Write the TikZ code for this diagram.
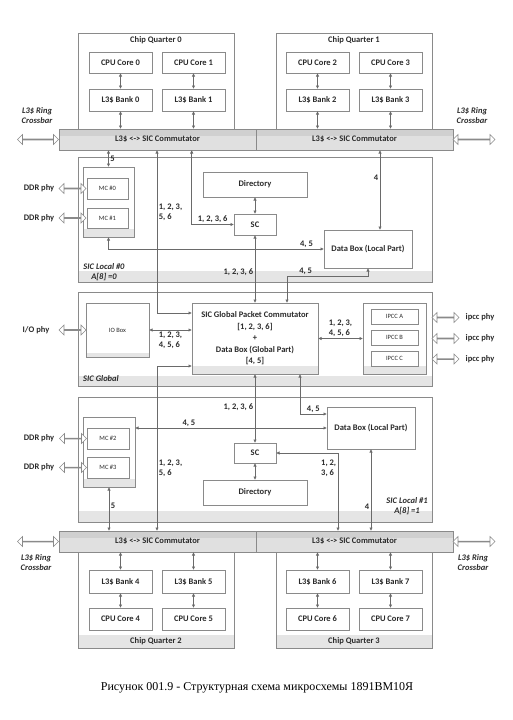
\documentclass[tikz,border=0pt]{standalone}
\usepackage{fontspec}
\setmainfont{Carlito}
\newfontfamily\capfont{Liberation Serif}
\usetikzlibrary{arrows.meta}
\usetikzlibrary{shapes.arrows}
\usetikzlibrary{shadows}

\definecolor{linegray}{HTML}{6A6A6A}
\definecolor{boxgray}{HTML}{8A8A8A}
\definecolor{bandgray}{HTML}{E5E5E5}
\definecolor{barfill}{HTML}{E0E0E0}
\definecolor{bartop}{HTML}{D0D0D0}
\definecolor{txtgray}{HTML}{2A2A2A}

\begin{document}
\begin{tikzpicture}[x=1pt, y=-1pt,
    font=\fontsize{8.5}{10}\selectfont\bfseries, text=txtgray,
    >={Triangle[length=3.2pt,width=3pt]},
    unit/.style={draw=boxgray, fill=white, inner sep=0pt, line width=0.6pt,
      drop shadow={shadow xshift=1pt, shadow yshift=-1pt, fill=black!25, opacity=1}},
    small/.style={font=\fontsize{6.5}{8}\selectfont\mdseries},
    area/.style={draw=boxgray, fill=white, inner sep=0pt, line width=0.6pt,
      path picture={\fill[bandgray] (path picture bounding box.south west)
        rectangle ([yshift=#1]path picture bounding box.south east);}},
    area/.default=11pt,
    bar/.style={draw=boxgray, fill=barfill, inner sep=0pt, line width=0.6pt,
      minimum width=197pt, minimum height=21pt,
      path picture={\fill[bartop] (path picture bounding box.north west)
        rectangle ([yshift=-7pt]path picture bounding box.north east);}},
    phy/.style={double arrow, draw=boxgray, fill=white, line width=0.6pt,
      inner sep=0pt, minimum width=10pt, double arrow head extend=3pt,
      double arrow head indent=0pt, minimum height=#1},
    link/.style={draw=linegray, line width=0.7pt, <->},
    tag/.style={inner sep=1.5pt},
    note/.style={font=\fontsize{8.5}{10}\selectfont\bfseries\itshape, align=center}]

  \useasboundingbox (0,0) rectangle (512,720);

  %chip quarters 0 and 1
  \node[area=0pt, minimum width=156pt, minimum height=97pt,
        label={[anchor=north]north:Chip Quarter 0}] (cq0) at (156,81.5) {};
  \node[area=0pt, minimum width=156pt, minimum height=97pt,
        label={[anchor=north]north:Chip Quarter 1}] (cq1) at (354,81.5) {};
  \node[unit, minimum width=63pt, minimum height=21pt] (core0) at (120.5,62.5) {CPU Core 0};
  \node[unit, minimum width=63pt, minimum height=21pt] (core1) at (193.5,62.5) {CPU Core 1};
  \node[unit, minimum width=63pt, minimum height=21pt] (core2) at (317.5,62.5) {CPU Core 2};
  \node[unit, minimum width=63pt, minimum height=21pt] (core3) at (390.5,62.5) {CPU Core 3};
  \node[unit, minimum width=63pt, minimum height=22pt] (bank0) at (120.5,100) {L3\$ Bank 0};
  \node[unit, minimum width=63pt, minimum height=22pt] (bank1) at (193.5,100) {L3\$ Bank 1};
  \node[unit, minimum width=63pt, minimum height=22pt] (bank2) at (317.5,100) {L3\$ Bank 2};
  \node[unit, minimum width=63pt, minimum height=22pt] (bank3) at (390.5,100) {L3\$ Bank 3};

  %upper commutators and ring crossbar
  \node[bar] (cmt0) at (157.5,139.5) {L3\$ <-> SIC Commutator};
  \node[bar] (cmt1) at (354.5,139.5) {L3\$ <-> SIC Commutator};
  \node[phy=41pt] (ring0) at (38,139.5) {};
  \node[phy=42pt] (ring1) at (474,139.5) {};
  \node[note] (ringlbl0) at (37,116) {L3\$ Ring\\Crossbar};
  \node[note] (ringlbl1) at (472,116) {L3\$ Ring\\Crossbar};

  \draw[link] (core0) -- (bank0);
  \draw[link] (core1) -- (bank1);
  \draw[link] (core2) -- (bank2);
  \draw[link] (core3) -- (bank3);
  \draw[link] (bank0) -- (bank0 |- cmt0.north);
  \draw[link] (bank1) -- (bank1 |- cmt0.north);
  \draw[link] (bank2) -- (bank2 |- cmt1.north);
  \draw[link] (bank3) -- (bank3 |- cmt1.north);

  %SIC local 0
  \node[area, minimum width=354pt, minimum height=125pt] (loc0) at (255,219.5) {};
  \node[note] (loc0lbl) at (104,272) {SIC Local \#0\\A[8] =0};
  \node[area=8pt, minimum width=51pt, minimum height=70pt] (mcg0) at (108.5,202) {};
  \node[unit, small, minimum width=41pt, minimum height=21pt] (mc0) at (107.5,188.5) {MC \#0};
  \node[unit, small, minimum width=41pt, minimum height=20pt] (mc1) at (107.5,218) {MC \#1};
  \node[phy=27pt] (ddr0) at (72.5,188.5) {};
  \node[phy=27pt] (ddr1) at (72.5,218) {};
  \node (ddrlbl0) at (39,188.5) {DDR phy};
  \node (ddrlbl1) at (39,218) {DDR phy};
  \node[unit, minimum width=104pt, minimum height=25pt] (dir0) at (255,184.5) {Directory};
  \node[unit, minimum width=42pt, minimum height=21pt] (sc0) at (255,224.5) {SC};
  \node[unit, minimum width=88pt, minimum height=38pt] (db0) at (368,249) {Data Box (Local Part)};

  %SIC global
  \node[area=10pt, minimum width=354pt, minimum height=94pt] (glob) at (255,339) {};
  \node[note] (globlbl) at (101,379) {SIC Global};
  \node[area=4pt, small, minimum width=63pt, minimum height=54pt] (iobox) at (117.5,330) {IO Box};
  \node[phy=27pt] (iophy) at (72.5,330) {};
  \node (iolbl) at (36,330) {I/O phy};
  \node[area=8pt, align=center, minimum width=126pt, minimum height=71pt,
        font=\fontsize{8.5}{11.5}\selectfont\bfseries] (gpc) at (255,338.5)
        {SIC Global Packet Commutator\\{}[1, 2, 3, 6]\\+\\Data Box (Global Part)\\{}[4, 5]};
  \node[area=8pt, minimum width=63pt, minimum height=71pt] (ipccg) at (394.5,338.5) {};
  \node[unit, small, minimum width=47pt, minimum height=15pt] (ipccA) at (394.5,316.5) {IPCC A};
  \node[unit, small, minimum width=47pt, minimum height=15pt] (ipccB) at (394.5,337.5) {IPCC B};
  \node[unit, small, minimum width=47pt, minimum height=15pt] (ipccC) at (394.5,358.5) {IPCC C};
  \node[phy=27pt] (phyA) at (445.5,317.5) {};
  \node[phy=27pt] (phyB) at (445.5,338.5) {};
  \node[phy=27pt] (phyC) at (445.5,359) {};
  \node (phylblA) at (480,317.5) {ipcc phy};
  \node (phylblB) at (480,338.5) {ipcc phy};
  \node (phylblC) at (480,359) {ipcc phy};

  %links of SIC local 0
  \coordinate (bus0) at (157,313);
  \coordinate (db0turn) at (287,276);
  \draw[link] (mcg0.north) -- (mcg0.north |- cmt0.south)
        node[tag, midway, right] (t5a) {5};
  \draw[link] (bus0 |- cmt0.south) -- (bus0)
        node[tag, pos=0.38, right, align=left] (t1a) {1, 2, 3,\\5, 6}
        -- (bus0 -| gpc.west);
  \draw[link] (gpc.west |- cmt0.south) -- (gpc.west |- sc0) -- (sc0.west)
        node[tag, midway, above] (t2a) {1, 2, 3, 6};
  \draw[link] (dir0) -- (sc0);
  \draw[link] (sc0) -- (gpc) node[tag, pos=0.55, left] (t3a) {1, 2, 3, 6};
  \draw[link] (mcg0) -- (mcg0 |- db0) -- (db0)
        node[tag, pos=0.92, above] (t4a) {4, 5};
  \draw[link] ([xshift=12pt]db0.north) -- ([xshift=12pt]db0.north |- cmt1.south)
        node[tag, pos=0.66, left] (t6a) {4};
  \draw[link] (db0.south) -- (db0.south |- db0turn) -- (db0turn)
        node[tag, pos=0.77, above] (t7a) {4, 5}
        -- (db0turn |- gpc.north);

  %links of SIC global
  \draw[link] (iobox.east) -- (iobox.east -| gpc.west)
        node[tag, midway, below, align=left] (t8) {1, 2, 3,\\4, 5, 6};
  \draw[link] (gpc.east) -- (gpc.east -| ipccg.west)
        node[tag, midway, above, align=left] (t9) {1, 2, 3,\\4, 5, 6};

  %SIC local 1
  \node[area, minimum width=354pt, minimum height=125pt] (loc1) at (255,459.5) {};
  \node[note] (loc1lbl) at (407,506) {SIC Local \#1\\A[8] =1};
  \node[area=8pt, minimum width=52pt, minimum height=70pt] (mcg1) at (109,452) {};
  \node[unit, small, minimum width=42pt, minimum height=21pt] (mc2) at (108,438.5) {MC \#2};
  \node[unit, small, minimum width=42pt, minimum height=21pt] (mc3) at (108,467.5) {MC \#3};
  \node[phy=27pt] (ddr2) at (73,438.5) {};
  \node[phy=27pt] (ddr3) at (73,467.5) {};
  \node (ddrlbl2) at (39,438.5) {DDR phy};
  \node (ddrlbl3) at (39,467.5) {DDR phy};
  \node[unit, minimum width=42pt, minimum height=20pt] (sc1) at (255,453) {SC};
  \node[unit, minimum width=104pt, minimum height=25pt] (dir1) at (255,492.5) {Directory};
  \node[unit, minimum width=88pt, minimum height=42pt] (db1) at (371,428) {Data Box (Local Part)};

  %chip quarters 2 and 3
  \node[area=13pt, minimum width=156pt, minimum height=97pt,
        label={[anchor=south]south:Chip Quarter 2}] (cq2) at (156,599.5) {};
  \node[area=13pt, minimum width=156pt, minimum height=97pt,
        label={[anchor=south]south:Chip Quarter 3}] (cq3) at (354,599.5) {};
  \node[unit, minimum width=63pt, minimum height=23pt] (bank4) at (120.5,581.5) {L3\$ Bank 4};
  \node[unit, minimum width=63pt, minimum height=23pt] (bank5) at (193.5,581.5) {L3\$ Bank 5};
  \node[unit, minimum width=63pt, minimum height=23pt] (bank6) at (317.5,581.5) {L3\$ Bank 6};
  \node[unit, minimum width=63pt, minimum height=23pt] (bank7) at (390.5,581.5) {L3\$ Bank 7};
  \node[unit, minimum width=63pt, minimum height=22pt] (core4) at (120.5,619) {CPU Core 4};
  \node[unit, minimum width=63pt, minimum height=22pt] (core5) at (193.5,619) {CPU Core 5};
  \node[unit, minimum width=63pt, minimum height=22pt] (core6) at (317.5,619) {CPU Core 6};
  \node[unit, minimum width=63pt, minimum height=22pt] (core7) at (390.5,619) {CPU Core 7};

  %lower commutators and ring crossbar
  \node[bar] (cmt2) at (157.5,541.5) {L3\$ <-> SIC Commutator};
  \node[bar] (cmt3) at (354.5,541.5) {L3\$ <-> SIC Commutator};
  \node[phy=41pt] (ring2) at (38,541.5) {};
  \node[phy=42pt] (ring3) at (474,541.5) {};
  \node[note] (ringlbl2) at (36,563) {L3\$ Ring\\Crossbar};
  \node[note] (ringlbl3) at (473,563) {L3\$ Ring\\Crossbar};

  \draw[link] (bank4 |- cmt2.south) -- (bank4);
  \draw[link] (bank5 |- cmt2.south) -- (bank5);
  \draw[link] (bank6 |- cmt3.south) -- (bank6);
  \draw[link] (bank7 |- cmt3.south) -- (bank7);
  \draw[link] (bank4) -- (core4);
  \draw[link] (bank5) -- (core5);
  \draw[link] (bank6) -- (core6);
  \draw[link] (bank7) -- (core7);

  %links of SIC local 1
  \coordinate (bus1) at (157,366);
  \coordinate (db1turn) at (300,414);
  \coordinate (sc1turn) at (338,453);
  \draw[link] (gpc) -- (sc1) node[tag, pos=0.48, left] (t3b) {1, 2, 3, 6};
  \draw[link] (db1turn |- gpc.south) -- (db1turn) -- (db1turn -| db1.west)
        node[tag, midway, above] (t7b) {4, 5};
  \draw[link] (bus1 -| gpc.west) -- (bus1) -- (bus1 |- cmt2.north)
        node[tag, pos=0.62, right, align=left] (t1b) {1, 2, 3,\\5, 6};
  \draw[link] (db1.west) -- (db1.west -| mcg1.east)
        node[tag, pos=0.72, above] (t4b) {4, 5};
  \draw[link] (sc1) -- (dir1);
  \draw[link] (sc1.east) -- (sc1turn) -- (sc1turn |- cmt3.north)
        node[tag, pos=0.2, left, align=left] (t2b) {1, 2,\\3, 6};
  \draw[link] (db1.south) -- (db1.south |- cmt3.north)
        node[tag, pos=0.7, left] (t6b) {4};
  \draw[link] (mcg1.south) -- (mcg1.south |- cmt2.north)
        node[tag, pos=0.43, right] (t5b) {5};

  %caption
  \node[font=\capfont\fontsize{12}{14}\selectfont, text=black] (caption) at (257,688)
        {Рисунок 001.9 - Структурная схема микросхемы 1891ВМ10Я};

\end{tikzpicture}
\end{document}
